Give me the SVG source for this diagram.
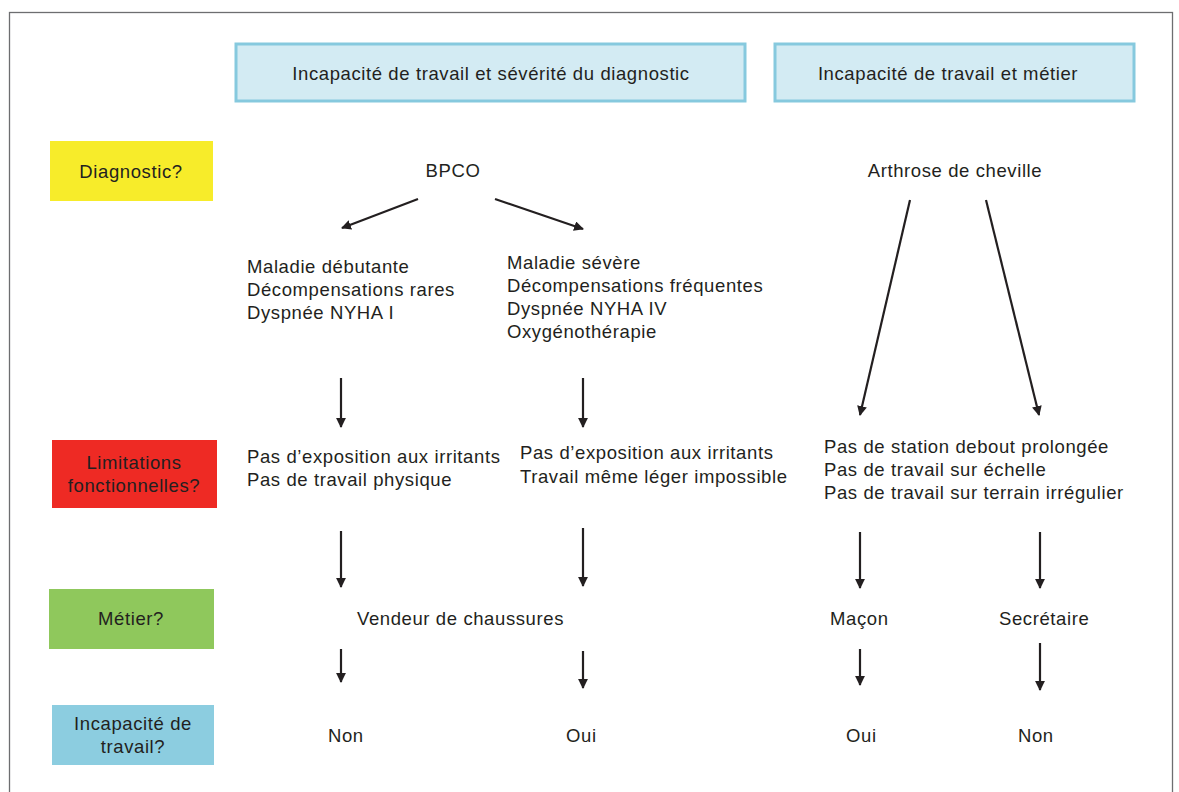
<svg xmlns="http://www.w3.org/2000/svg" width="1179" height="792" viewBox="0 0 1179 792">
<style>
text{font-family:"Liberation Sans",Arial,sans-serif;font-size:18.5px;letter-spacing:0.6px;fill:#231f20}
.c{text-anchor:middle}
.hdr{fill:#d3ebf3;stroke:#86c9de;stroke-width:3}
.ar{stroke:#231f20;stroke-width:2.2;fill:none;marker-end:url(#ah)}
</style>
<defs>
<marker id="ah" viewBox="0 0 10 10" refX="9" refY="5" markerWidth="4.5" markerHeight="4.5" orient="auto" markerUnits="strokeWidth">
<path d="M0,0 L10,5 L0,10 z" fill="#231f20"/>
</marker>
</defs>
<rect x="0" y="0" width="1179" height="792" fill="#fff"/>
<rect x="9.5" y="12.5" width="1163" height="790" fill="none" stroke="#6d6e70" stroke-width="1.3"/>

<g id="hdr1"><rect class="hdr" x="236" y="44" width="509" height="57"/><text class="c" x="491" y="80">Incapacité de travail et sévérité du diagnostic</text></g>
<g id="hdr2"><rect class="hdr" x="775" y="44" width="359" height="57"/><text class="c" x="948" y="80">Incapacité de travail et métier</text></g>

<g id="lbl-diag"><rect x="50" y="141" width="163" height="60" fill="#f7ec2a"/><text class="c" x="131" y="178">Diagnostic?</text></g>
<g id="lbl-lim"><rect x="52" y="440" width="165" height="68" fill="#ee2a24"/><text class="c" x="134" y="469">Limitations</text><text class="c" x="134" y="492">fonctionnelles?</text></g>
<g id="lbl-met"><rect x="49" y="589" width="165" height="60" fill="#8fc85c"/><text class="c" x="131" y="625">Métier?</text></g>
<g id="lbl-inc"><rect x="52" y="705" width="162" height="60" fill="#8ccde0"/><text class="c" x="133" y="730">Incapacité de</text><text class="c" x="133" y="753">travail?</text></g>

<g id="bpco"><text class="c" x="453" y="177">BPCO</text></g>
<g id="arthrose"><text class="c" x="955" y="177">Arthrose de cheville</text></g>

<g id="mild"><text x="247" y="273">Maladie débutante</text><text x="247" y="296">Décompensations rares</text><text x="247" y="319">Dyspnée NYHA I</text></g>
<g id="severe"><text x="507" y="269">Maladie sévère</text><text x="507" y="292">Décompensations fréquentes</text><text x="507" y="315">Dyspnée NYHA IV</text><text x="507" y="338">Oxygénothérapie</text></g>

<g id="lim-mild"><text x="247" y="463">Pas d’exposition aux irritants</text><text x="247" y="486">Pas de travail physique</text></g>
<g id="lim-severe"><text x="520" y="459">Pas d’exposition aux irritants</text><text x="520" y="483">Travail même léger impossible</text></g>
<g id="lim-arth"><text x="824" y="453">Pas de station debout prolongée</text><text x="824" y="476">Pas de travail sur échelle</text><text x="824" y="499">Pas de travail sur terrain irrégulier</text></g>

<g id="vendeur"><text x="357" y="625">Vendeur de chaussures</text></g>
<g id="macon"><text x="830" y="625">Maçon</text></g>
<g id="secretaire"><text x="999" y="625">Secrétaire</text></g>

<g id="res1"><text x="328" y="742">Non</text></g>
<g id="res2"><text x="566" y="742">Oui</text></g>
<g id="res3"><text x="846" y="742">Oui</text></g>
<g id="res4"><text x="1018" y="742">Non</text></g>

<g id="connectors">
<line class="ar" x1="418" y1="199" x2="342" y2="228"/>
<line class="ar" x1="495" y1="199" x2="583" y2="229"/>
<line class="ar" x1="341" y1="378" x2="341" y2="427"/>
<line class="ar" x1="583" y1="378" x2="583" y2="427"/>
<line class="ar" x1="341" y1="531" x2="341" y2="587"/>
<line class="ar" x1="583" y1="528" x2="583" y2="586"/>
<line class="ar" x1="341" y1="649" x2="341" y2="682"/>
<line class="ar" x1="583" y1="651" x2="583" y2="688"/>
<line class="ar" x1="910" y1="200" x2="860" y2="415"/>
<line class="ar" x1="986" y1="200" x2="1039" y2="415"/>
<line class="ar" x1="860" y1="532" x2="860" y2="588"/>
<line class="ar" x1="1040" y1="532" x2="1040" y2="588"/>
<line class="ar" x1="860" y1="649" x2="860" y2="685"/>
<line class="ar" x1="1040" y1="643" x2="1040" y2="690"/>
</g>
</svg>
